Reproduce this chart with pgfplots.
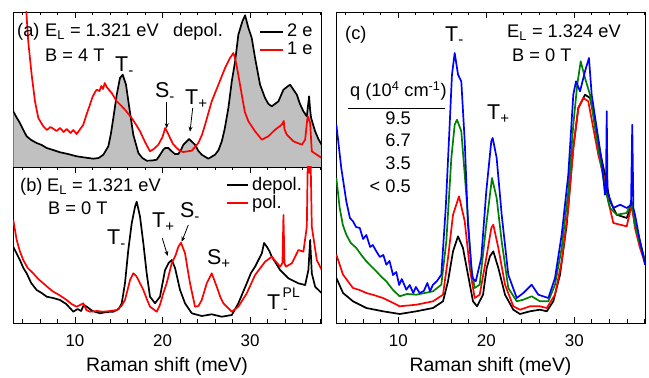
\documentclass[border=0pt]{standalone}
\usepackage{pgfplots}
\pgfplotsset{compat=1.18}
\usepackage{pgfplotstable}
\usepackage{fontspec}
\setmainfont{Liberation Sans}
\usetikzlibrary{arrows.meta}
\definecolor{dgreen}{RGB}{0,128,0}
\definecolor{fillgray}{RGB}{192,192,192}
\newcommand{\tf}{\fontsize{18.3}{20}\selectfont}
\newcommand{\pf}{\fontsize{21.5}{23}\selectfont}
\newcommand{\smf}{\fontsize{14}{15}\selectfont}

\pgfplotstableread{
x y
2.95 55.7
3.3 50
3.71 44
4.1 37
4.48 30.7
5.0 27
5.62 24
6.2 22
6.77 19
7.5 17
8.29 14.7
9.2 13
10.19 10.7
11.1 9.5
12.09 8.3
12.7 9
13.24 12.3
13.81 20.7
14.1 33
14.38 49
14.77 72.3
15.14 89
15.45 92.3
15.83 82.3
16.21 59
16.66 32.3
17.24 14
17.7 9
18.19 6.3
18.8 6.5
19.34 7.3
19.7 12
20.09 17.3
20.29 19
20.66 19
21.05 15.7
21.4 13
21.81 13
22.1 17
22.38 22.3
23.03 28
23.71 22.3
24.1 16
24.48 12.3
25.23 8.3
26.0 12.3
26.4 17
26.77 25.7
27.1 38
27.52 59
27.91 85.7
28.29 105.7
28.66 132.3
29.12 145.7
29.43 151.7
29.81 139
30.19 129
30.57 109
31.14 82.3
31.71 69
32.1 63
32.48 60.7
33.24 65.7
33.81 77.3
34.2 80
34.57 82.3
34.9 78
35.34 72.3
35.7 63
36.09 55.7
36.48 50.7
36.6 60
36.74 70.7
36.85 58
36.97 49
37.43 35.7
37.8 28
38.19 22
}\ablack

\pgfplotstableread{
x y
4.3 200
4.48 150
4.66 125.7
5.05 92.3
5.43 65.7
5.81 49
6.38 40.7
6.8 37
7.2 40
7.52 38.3
7.9 36
8.3 39
8.7 35
9.05 38
9.5 34
9.8 37
10.19 33
10.6 38
10.95 42.3
11.3 52
11.71 62.3
12.0 70
12.3 75
12.48 77.3
12.8 76
13.0 81
13.2 78
13.4 84
13.62 80
13.9 77
14.19 74
14.77 65.7
15.2 62
15.71 57.3
16.1 53
16.48 49
17.0 42
17.43 35.7
18.0 25
18.57 15.7
19.0 18
19.52 22.3
20.0 30
20.3 39
20.6 34
20.86 29
21.2 23
21.62 19
22.0 16
22.38 15
23.34 16.3
24.09 24
24.5 32
24.86 42.3
25.62 65.7
26.38 82.3
27.14 99
27.71 109
28.09 114
28.3 108
28.48 100.7
29.05 72.3
29.4 55
29.81 45.7
30.57 35.7
31.34 27.3
32.09 30.7
32.86 37.3
33.62 42.3
33.85 46
33.92 38
34.19 32.3
34.95 25.7
35.91 22.3
36.29 27.3
36.5 45
36.59 50.7
36.86 44
37.05 15.7
37.62 12.3
38.19 9
}\ared

\pgfplotstableread{
x y
2.95 76.3
3.3 70
3.71 63
4.1 55
4.48 49.7
5.0 40
5.62 33
6.2 30
6.77 26.3
7.5 25
8.29 23
9.0 19
9.81 11.3
10.3 14
10.7 12
11.0 18
11.34 16.3
12.0 12
12.86 9.7
13.6 11
14.38 11.3
15.0 14
15.34 19.7
15.71 39.7
16.09 73
16.48 99.7
16.86 116.3
17.05 121.3
17.43 106.3
17.81 79.7
18.19 49.7
18.57 26.3
19.14 19.7
19.71 26.3
20.29 53
20.7 60
21.05 63
21.43 55
22.0 33
22.57 19.7
23.34 9.7
24.48 7
25.62 8.7
26.77 6.3
27.91 8
28.66 19.7
29.62 39.7
30.1 50
30.57 56.3
31.34 69.7
31.6 80
31.91 76.3
32.2 72
32.48 66.3
33.43 53
34.38 44.7
35.52 39.7
36.29 38
36.66 53
36.86 83
37.05 49.7
37.43 36.3
38.19 29.7
}\bblack

\pgfplotstableread{
x y
2.95 103
3.34 83
3.7 72
4.09 63
4.6 55
5.23 49.7
5.8 44
6.38 39.7
7.0 35
7.52 31.3
8.2 28
9.05 23
9.6 19
10.19 16.3
10.95 19.7
11.3 13
11.71 11.3
12.5 12
13.24 11.3
14.0 12
14.77 13
15.3 17
15.71 23
16.29 43
16.66 49.7
17.0 47
17.24 43
17.81 33
18.2 24
18.57 16.3
19.34 11.3
19.7 18
20.09 29.7
20.48 40
21.05 59.7
21.5 68
21.81 76.3
22.11 80.3
22.57 69.7
22.9 52
23.14 39.7
23.71 16.3
24.1 17
24.48 23
25.05 39.7
25.62 49.7
26.19 36.3
26.6 26
26.95 19.7
27.91 11.3
28.66 16.3
29.62 29.7
30.57 48
31.71 61.3
32.48 66.3
33.43 56.3
33.7 60
33.81 108
33.93 60
34.08 56.3
34.77 59.7
35.52 73
36.09 71.3
36.48 96.3
36.6 170
36.75 150
36.9 170
37.05 96.3
37.62 63
38.19 53
}\bred

\pgfplotstableread{
x y
2.96 45
3.72 30
4.85 21.7
6.37 15
8.26 11.7
10.16 9
12.05 11.7
13.95 15
15.08 21.7
15.65 41.7
16.22 71.7
16.79 86.7
17.35 75
17.92 48.3
18.49 21.7
18.95 16.7
19.63 28.3
20.05 55
20.42 66.7
20.80 71.7
21.37 55
22.13 28.3
23.07 13.3
23.83 9
24.97 11.7
26.10 13.3
26.87 11.7
27.62 21.7
28.38 48.3
29.14 98.3
29.89 175
30.46 215
31.22 228.3
31.79 225
32.36 201.7
32.92 171.7
33.49 148.3
34.06 121.7
34.82 108.3
35.96 105
36.53 118.3
36.90 98.3
37.47 81.7
38.04 61.7
}\cblack

\pgfplotstableread{
x y
2.96 68.3
3.72 48.3
4.85 35
5.6 33
6.37 30
7.2 28
8.26 25
9.2 21
10.16 16.7
12.05 18.3
13.95 21.7
15.08 28.3
15.65 65
16.22 108.3
16.90 126.7
17.55 101.7
18.12 55
18.68 25
19.25 28.3
20.0 65
20.57 95
20.80 98.3
21.37 75
22.13 38.3
23.07 16.7
23.83 13.3
24.97 16.7
26.10 16.7
26.87 15
27.81 28.3
28.57 61.7
29.32 115
29.89 175
30.46 215
31.03 225
31.59 221.7
32.16 195
32.73 168.3
33.30 148.3
33.87 121.7
34.44 100
35.20 98.3
35.96 96.7
36.53 118.3
36.90 95
37.47 75
38.04 60
}\cred

\pgfplotstableread{
x y
2.96 145
3.34 115
3.7 98
4.09 88.3
4.6 80
5.23 75
5.8 68
6.37 61.7
6.9 57
7.50 51.7
8.1 46
8.64 41.7
9.4 33
10.16 26.7
11.0 29
12.05 28.3
13.0 30
13.95 31.7
14.89 38.3
15.46 81.7
16.03 165
16.41 198.3
16.67 203.3
17.16 191.7
17.73 128.3
18.30 55
18.68 35
19.25 38.3
20.0 98.3
20.65 145
21.18 125
21.75 81.7
22.50 35
23.46 21.7
24.21 23.3
25.16 26.7
26.10 21.7
27.05 21.7
27.81 38.3
28.57 75
29.32 131.7
29.89 198.3
30.34 238.3
30.73 261.7
31.22 245
31.79 228.3
32.36 195
32.92 165
33.49 135
34.06 115
34.82 108.3
35.96 110
36.53 121.7
36.90 98.3
37.47 78.3
38.04 61.7
}\cgreen

\pgfplotstableread{
x y
2.96 198.3
3.52 155
4.09 121.7
4.5 105
4.85 101.7
5.2 96
5.62 95
6.0 84
6.37 88
6.8 76
7.1 78
7.50 71.7
7.9 66
8.3 68
8.64 58.3
9.0 62
9.4 48
9.77 51
10.1 38
10.4 44
10.91 33.3
11.3 38
11.7 30
12.0 36
12.43 30
12.9 32
13.3 40
13.6 32
13.95 38.3
14.4 42
14.89 48.3
15.39 115
15.84 198.3
16.10 248.3
16.41 270
16.79 248.3
17.16 241.7
17.55 181.7
17.92 98.3
18.41 45
18.80 41.7
19.43 65
20.0 131.7
20.57 181.7
20.73 185
21.18 165
21.75 108.3
22.50 48.3
23.46 25
24.21 30
25.16 38.3
25.91 28.3
27.05 25
27.81 45
28.57 88.3
29.32 148.3
29.89 228.3
30.20 241.7
30.65 231.7
31.22 251.7
31.67 265
31.98 228.3
32.55 195
33.12 161.7
33.49 128.3
33.6 135
33.69 211.7
33.78 130
33.87 128.3
34.44 115
35.20 118.3
35.96 115
36.45 118
36.59 198.3
36.72 115
36.90 108.3
37.47 81.7
38.04 58.3
}\cblue

\pgfplotsset{
  myax/.style={
    scale only axis, anchor=south west,
    ymin=0,
    xtick={10,20,30},
    minor xtick={4,6,8,12,14,16,18,22,24,26,28,32,34,36,38},
    ytick=\empty,
    tick align=inside, tick pos=both,
    major tick length=6bp, minor tick length=3.5bp,
    axis line style={line width=0.9bp},
    every tick/.style={black, line width=0.8bp},
    tick label style={font=\fontsize{17}{18}\selectfont},
    /pgf/number format/assume math mode=true,
    xticklabel style={anchor=base, yshift=-23bp},
    xlabel style={at={(axis description cs:0.5,0)}, anchor=base, yshift=-48bp, font=\fontsize{19.5}{21}\selectfont},
    every axis plot/.append style={line width=1.7bp, line join=round},
  }
}

\begin{document}
\begin{tikzpicture}
\path[use as bounding box] (0,0) rectangle (649bp,378bp);

% panel (a)
\begin{axis}[myax, at={(13bp,211bp)}, width=308bp, height=155bp,
  xmin=2.92, xmax=38.1, ymax=155, xticklabels={}, minor ytick={16,125}]
\addplot[draw=none, fill=fillgray, forget plot] table[x=x,y=y] {\ablack} \closedcycle;
\addplot[black] table[x=x,y=y] {\ablack};
\addplot[red] table[x=x,y=y] {\ared};
\end{axis}

% panel (b)
\begin{axis}[myax, at={(13bp,55bp)}, width=308bp, height=156bp,
  xmin=2.92, xmax=38.1, ymax=156, minor ytick={12,33.5,55,76.5,98,119.5,141},
  xlabel={Raman shift (meV)}]
\addplot[black] table[x=x,y=y] {\bblack};
\addplot[red] table[x=x,y=y] {\bred};
\end{axis}

% panel (c)
\begin{axis}[myax, at={(336bp,55bp)}, width=309bp, height=311bp,
  xmin=2.92, xmax=38.04, ymax=311,
  minor ytick={21.2,43.5,65.8,88.1,110.4,132.7,155,177.3,199.6,221.9,244.2,266.5,288.8},
  xlabel={Raman shift (meV)}]
\addplot[black] table[x=x,y=y] {\cblack};
\addplot[red] table[x=x,y=y] {\cred};
\addplot[dgreen] table[x=x,y=y] {\cgreen};
\addplot[blue] table[x=x,y=y] {\cblue};
\end{axis}

% annotations panel (a)
\begin{scope}[every node/.style={inner sep=0pt, font=\tf}]
\node[anchor=base west] at (17bp,341bp) {(a)};
\node[anchor=base west] at (45bp,341bp) {E\textsubscript{L} = 1.321 eV};
\node[anchor=base west] at (173bp,341bp) {depol.};
\node[anchor=base west] at (45bp,316bp) {B = 4 T};
\draw[black, line width=1.8bp] (260bp,346bp) -- (283bp,346bp);
\node[anchor=base west] at (287bp,341bp) {2 e};
\draw[red, line width=1.8bp] (260bp,328bp) -- (283bp,328bp);
\node[anchor=base west] at (287bp,323bp) {1 e};
\node[anchor=base west, font=\pf] at (115bp,306bp) {T\textsubscript{-}};
\node[anchor=base west, font=\pf] at (155bp,280bp) {S\textsubscript{-}};
\node[anchor=base west, font=\pf] at (185bp,273bp) {T\textsubscript{+}};
\draw[-{Stealth[length=5bp,width=4bp]}, line width=0.8bp] (166.7bp,276bp) -- (166.7bp,249.7bp);
\draw[-{Stealth[length=5bp,width=4bp]}, line width=0.8bp] (192.7bp,270bp) -- (190bp,246.3bp);

% panel (b)
\node[anchor=base west] at (20bp,186.3bp) {(b)};
\node[anchor=base west] at (47bp,186.3bp) {E\textsubscript{L} = 1.321 eV};
\node[anchor=base west] at (48bp,163bp) {B = 0 T};
\draw[black, line width=1.8bp] (227bp,193bp) -- (248bp,193bp);
\node[anchor=base west] at (252bp,187.3bp) {depol.};
\draw[red, line width=1.8bp] (227bp,175bp) -- (248bp,175bp);
\node[anchor=base west] at (252bp,169bp) {pol.};
\node[anchor=base west, font=\pf] at (107bp,133bp) {T\textsubscript{-}};
\node[anchor=base west, font=\pf] at (152bp,150bp) {T\textsubscript{+}};
\node[anchor=base west, font=\pf] at (180bp,160bp) {S\textsubscript{-}};
\node[anchor=base west, font=\pf] at (207bp,113bp) {S\textsubscript{+}};
\node[anchor=base west, font=\pf] at (267bp,68bp) {T};
\node[anchor=base west, font=\smf] at (283bp,64bp) {-};
\node[anchor=base west, font=\smf] at (282.5bp,80bp) {PL};
\draw[-{Stealth[length=5bp,width=4bp]}, line width=0.8bp] (162.3bp,139.7bp) -- (167.7bp,122bp);
\draw[-{Stealth[length=5bp,width=4bp]}, line width=0.8bp] (188.3bp,153bp) -- (181.7bp,136.3bp);

% panel (c)
\node[anchor=base west] at (345bp,338bp) {(c)};
\node[anchor=base west, font=\pf] at (445bp,336.3bp) {T\textsubscript{-}};
\node[anchor=base west] at (507bp,340bp) {E\textsubscript{L} = 1.324 eV};
\node[anchor=base west] at (512bp,316.3bp) {B = 0 T};
\node[anchor=base west, font=\pf] at (487bp,258bp) {T\textsubscript{+}};
\node[anchor=base west] at (350bp,281bp) {q (10\textsuperscript{4} cm\textsuperscript{-1})};
\draw[line width=0.9bp] (348bp,270bp) -- (445bp,270bp);
\node[anchor=base east] at (411bp,253bp) {9.5};
\node[anchor=base east] at (411bp,231.3bp) {6.7};
\node[anchor=base east] at (411bp,208bp) {3.5};
\node[anchor=base east] at (411bp,185bp) {< 0.5};
\end{scope}
\end{tikzpicture}
\end{document}
